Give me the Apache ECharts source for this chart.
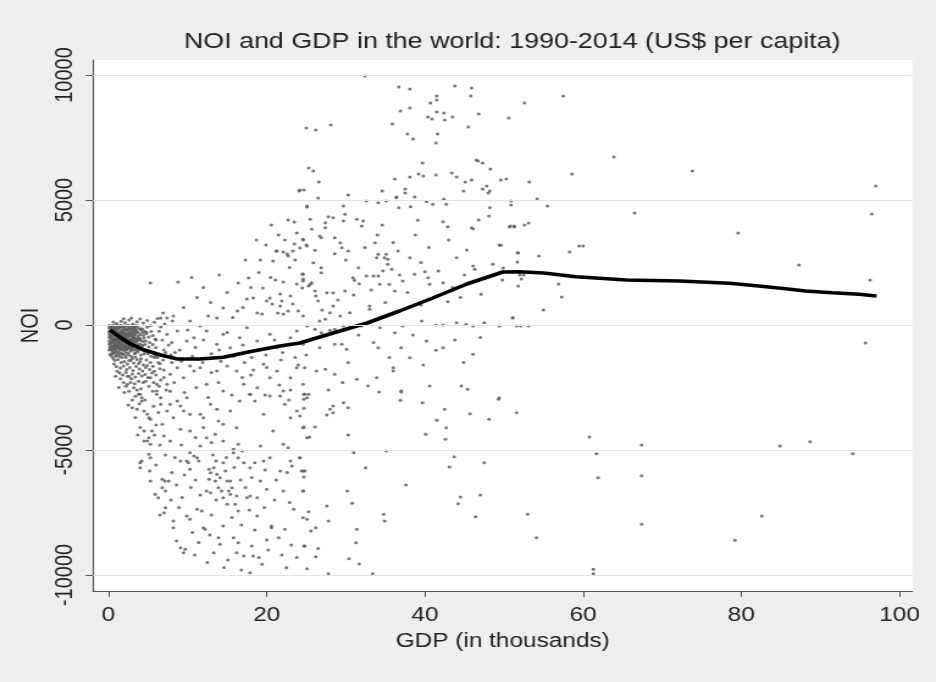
<!DOCTYPE html>
<html>
<head>
<meta charset="utf-8">
<script src="https://cdn.jsdelivr.net/npm/echarts@6/dist/echarts.min.js"></script>
<style>
  html, body { margin: 0; padding: 0; background: #eeeeee; overflow: hidden; }
  /* The chart is laid out on a 767px-wide canvas and stretched horizontally to 936px. */
  #chart { width: 767px; height: 682px; transform: scaleX(1.2203); transform-origin: 0 0; }
</style>
</head>
<body>
<div id="chart"></div>
<script>
// Tick positions
const xTicks = [0, 20, 40, 60, 80, 100];
const yTicks = [-10000, -5000, 0, 5000, 10000];

// Country-year observations: [GDP per capita (thousand US$), NOI per capita (US$)]
const clusterNearZero = [
  [0.2,-50],[0.3,-180],[0.4,-320],[0.2,-450],[0.5,-600],[0.3,-720],[0.6,-850],[0.4,-960],[0.7,-60],[0.8,-240],
  [0.9,-410],[0.7,-530],[1.0,-680],[0.8,-790],[1.1,-920],[0.9,-1050],[1.2,-30],[1.3,-150],[1.4,-300],[1.2,-470],
  [1.5,-560],[1.3,-710],[1.6,-830],[1.4,-990],[1.7,-90],[1.8,-260],[1.9,-380],[1.7,-500],[2.0,-640],[1.8,-770],
  [2.1,-880],[1.9,-1020],[2.2,-40],[2.3,-200],[2.4,-340],[2.2,-430],[2.5,-590],[2.3,-740],[2.6,-860],[2.4,-940],
  [2.7,-120],[2.8,-280],[2.9,-450],[2.7,-610],[3.0,-700],[2.8,-830],[3.1,-1000],[3.2,-60],[3.3,-230],[3.4,-390],
  [3.2,-520],[3.5,-660],[3.3,-800],[3.6,-930],[0.1,-120],[0.1,-380],[0.1,-640],[0.15,-880],[0.25,-260],[0.35,-540],
  [0.45,-100],[0.55,-400],[0.65,-700],[0.75,-960],[0.85,-180],[0.95,-560],[1.05,-320],[1.15,-840],[1.25,-620],[1.35,-80],
  [1.45,-440],[1.55,-900],[1.65,-210],[1.75,-660],[1.85,-480],[1.95,-140],[2.05,-820],[2.15,-360],[2.25,-560],[2.35,-980],
  [2.45,-110],[2.55,-730],[2.65,-420],[2.75,-910],[2.85,-160],[2.95,-560],[3.05,-330],[3.15,-870],[3.25,-700],[3.35,-120],
  [3.45,-560],[3.55,-280],[3.65,-760],[3.75,-450],[3.85,-140],[3.95,-980],[4.1,-620],[4.3,-300],[4.2,-860],[4.5,-520],
  [0.3,-80],[0.6,-270],[0.9,-150],[1.1,-500],[1.4,-700],[1.7,-380],[2.0,-240],[2.3,-620],[2.6,-330],[2.9,-780],
  [3.2,-430],[3.5,-190],[0.4,-580],[0.7,-820],[1.0,-960],[1.3,-1080],[1.6,-620],[1.9,-860],[2.2,-1100],[2.5,-900],
  [2.8,-1040],[3.1,-640],[3.4,-980],[0.2,-980],[0.5,-1080],[0.6,-20],[1.0,-20],[1.5,-10],[2.0,-30],[2.5,-10],
  [3.0,-20],[3.5,-30],[0.35,-720],[0.75,-430],[1.15,-250],[1.55,-350],[1.95,-520],[2.35,-470],[2.75,-580],[3.15,-230],
  [0.55,-1000],[0.95,-870],[1.35,-920],[1.75,-1150],[2.15,-990],[2.55,-1200],[2.95,-920],[3.35,-1120],[3.8,-820],[4.0,-380],
  [4.3,-1000],[4.6,-780],[0.15,-300],[0.25,-760],[0.45,-880],[0.85,-640],[1.25,-780],[1.65,-450],[2.05,-680],[2.45,-800],
  [2.85,-650],[3.25,-540],[3.65,-1020],[4.05,-200],[4.4,-660],[4.75,-350],[5.1,-880],
  [0.5,-1150],[0.9,-1240],[1.3,-1180],[1.7,-1300],[2.1,-1220],[2.5,-1120],[2.9,-1260],[3.3,-1150],[3.7,-1080],[4.1,-1200],
  [4.6,-1050],[5.0,-1150],[0.8,-1420],[1.2,-1380],[1.6,-1500],[2.0,-1460],[2.4,-1560],[2.8,-1420],[3.2,-1520],[3.6,-1380],
  [4.0,-1460],[4.4,-1600],[4.8,-1400],[5.3,-1500],[1.0,-1660],[1.5,-1720],[1.9,-1640],[2.3,-1780],[2.7,-1700],[3.1,-1820],
  [3.5,-1660],[3.9,-1760],[4.3,-1840],[4.7,-1700],[5.2,-1780],[5.6,-1650],[1.4,-1920],[1.8,-2000],[2.2,-1900],[2.6,-2060],
  [3.0,-1960],[3.4,-2080],[3.8,-1940],[4.2,-2040],[4.6,-1980],[5.0,-2100],[5.5,-1920],[6.0,-2000],
  [0.6,120],[1.0,60],[1.6,150],[2.1,90],[2.6,200],[3.1,40],[3.6,130],[4.0,240],[4.4,80],[4.9,180],
  [5.3,-30],[5.8,110],[6.2,260],[6.6,-80],[7.1,40],[1.9,250],[2.9,280],
  [4.8,-300],[5.2,-700],[5.6,-420],[6.0,-900],[6.4,-250],[5.9,-1250],[6.8,-600],[7.2,-1100],[6.3,-1500],[7.6,-800],
  [8.0,-1500],[7.0,-1800],[8.4,-1100],[5.7,-2300],[6.6,-2200],[7.3,-2600],[4.4,-2300],[3.6,-2600],[2.8,-2300],[2.2,-2450],
  [3.7,-300],[3.9,-560],[4.2,-150],[4.4,-420],[4.7,-640],[4.9,-90],[5.1,-480],[5.4,-260],[5.6,-780],[5.9,-560],
  [4.1,-1350],[4.5,-1150],[4.9,-1620],[5.4,-1250],[5.8,-1850],[6.2,-1300],[6.5,-1750],[6.9,-1400],[0.4,-1250],[0.7,-1560],
  [1.1,-1850],[1.5,-2150],[1.9,-2300],[2.4,-2050],[2.9,-2150],[3.3,-2350],[3.8,-2250],[4.1,-2550],[4.7,-2250],[5.1,-2450],
  [0.9,-2050],[1.3,-2500],[2.0,-2700],[2.6,-2650],[3.4,-2850],[5.6,-2650],[6.4,-2450],[7.0,-2100],[7.8,-2650],[8.3,-2300],
  [0.3,-400],[0.5,-230],[0.8,-680],[1.2,-130],[1.6,-980],[2.0,-420],[2.4,-600],[2.8,-80],[3.2,-860],[3.6,-530],
  [0.2,-1180],[0.6,-1340],[1.0,-1120],[1.4,-1260],[1.8,-1180],[2.2,-1300],[2.6,-1420],[3.0,-1340],[3.4,-1280],[3.8,-1540],
  [0.1,-20],[0.1,-260],[0.1,-500],[0.1,-760],[0.1,-1000],[0.4,-40],[0.4,-200],[0.4,-460],[0.4,-700],[0.4,-860],
  [0.7,-160],[0.7,-340],[0.7,-620],[0.7,-920],[0.7,-1120],[1.0,-140],[1.0,-400],[1.0,-580],[1.0,-780],[1.0,-1240],
  [1.3,-60],[1.3,-380],[1.3,-560],[1.3,-840],[1.6,-40],[1.6,-260],[1.6,-520],[1.6,-740],[1.6,-1120],[1.9,-60],
  [1.9,-300],[1.9,-620],[1.9,-940],[2.2,-160],[2.2,-340],[2.2,-700],[2.2,-860],[2.5,-220],[2.5,-460],[2.5,-700],
  [2.8,-180],[2.8,-380],[2.8,-720],[2.8,-940],[3.1,-140],[3.1,-360],[3.1,-540],[3.1,-780],[3.4,-80],[3.4,-300],
  [3.4,-620],[3.4,-860],[3.7,-40],[3.7,-620],[3.7,-880],[4.0,-540],[4.0,-760],[4.3,-180],[4.3,-820],[4.6,-260]
];

const pointsAboveZero = [
  [32.4,9960],[36.7,9520],[38.1,9440],[43.8,9560],[45.9,9480],[45.8,9160],[40.7,8880],[41.5,9160],[41.5,9000],[36.9,8560],
  [38.1,8680],[41.5,8520],[42.4,8480],[40.4,8320],[40.9,8240],[42.5,8200],[43.5,8320],[46.8,8440],[50.6,8280],[35.9,8040],
  [45.5,7920],[26.2,7800],[28.1,8000],[37.8,7640],[38.5,7440],[41.6,7640],[41.4,7280],[39.7,6480],[46.5,6600],[46.7,6560],
  [47.3,6480],[48.3,6240],[25.9,6160],[26.6,5720],[36.2,5840],[38.1,5920],[39.2,6040],[39.8,5960],[41.4,6000],[43.4,6080],
  [44.0,5920],[45.1,5720],[45.9,5800],[49.6,5800],[50.3,5840],[48.2,5360],[47.8,5560],[47.3,5440],[44.9,5360],[48.0,5280],
  [37.5,5440],[37.5,5280],[34.6,5360],[24.7,5400],[24.2,5400],[36.4,5120],[38.7,5120],[30.3,5200],[26.5,5080],
  [57.5,9160],[52.6,8880],[63.9,6720],[73.8,6160],[97.0,5560],[53.2,5720],[58.6,6040],[50.9,4960],[50.9,4800],[54.2,5040],
  [55.5,4760],[66.5,4480],[96.5,4440],[50.7,3920],[51.3,3920],[52.6,4000],[53.1,4080],[79.6,3680],[49.4,3200],[51.8,2880],
  [54.4,2760],[58.3,2920],[59.5,3160],[60.0,3160],
  [87.3,2400],[96.3,1800],[51.7,2520],[49.9,2280],[52.0,2000],[52.5,2000],[52.2,1840],[49.8,1800],[51.8,1560],[56.9,1640],
  [57.3,1120],[55.0,600],[51.1,280],
  [25.1,4760],[29.7,4760],[29.9,4430],[27.8,4330],[28.4,4290],[25.5,4230],[27.4,4090],[27.4,3890],[29.7,4160],[31.4,4230],
  [32.2,4160],[32.0,3960],[25.7,3830],[26.7,3560],[26.9,3490],[28.6,3490],[29.3,3290],[29.5,3090],[30.3,2960],[24.6,3430],
  [25.1,3160],[26.1,2990],[28.6,2850],[33.7,3290],[33.9,2690],[35.1,2830],[35.3,2630],[36.6,2960],[38.1,2690],[34.6,4000],
  [32.6,4960],[34.1,4890],[35.1,4960],[36.4,5090],[36.7,4690],[38.2,4730],[39.1,4190],[40.2,4930],[41.0,4830],[42.4,5030],
  [42.7,4830],[42.3,4130],[42.9,3930],[44.0,2690],[45.9,3890],[46.1,3850],[46.8,4200],[48.1,4360],[48.2,4690],[49.6,3190],
  [50.8,3960],[51.3,3960],[51.7,2890],
  [25.0,7880],[25.3,6280],[24.1,5360],[25.1,4720],[23.5,4120],[23.8,3680],[22.3,3400],[23.5,3240],[24.2,3080],[24.6,3400],
  [25.0,3200],[21.3,2960],[22.1,2920],[22.7,2760],[23.3,2960],[19.2,2600],
  [5.3,1680],[8.8,1720],[16.4,1680],[17.7,1880],[20.8,2560],[21.2,2960],[22.6,2840],[19.5,1480],[21.1,1800],[22.1,1720],
  [24.5,2040],[24.6,1840],[23.8,1640],[24.5,1480],[17.5,1040],[18.3,1080],[20.0,960],[20.7,840],[20.4,1080],[21.7,1240],
  [21.9,960],[21.7,760],[23.0,1160],[23.3,840],[18.8,480],[19.4,440],[21.4,480],[22.1,440],[22.7,560],[24.0,560],
  [24.6,360],[14.5,680],[12.6,360],[13.7,280],[16.3,560],[10.3,160],[6.9,480],[6.6,280],[7.4,280],[8.1,160],[8.2,360],
  [25.9,2490],[26.9,2290],[26.9,2090],[24.6,2030],[24.6,1760],[25.7,1690],[25.5,1630],[25.3,1560],[26.1,1360],[26.2,1160],
  [27.6,1290],[28.4,1290],[29.9,1360],[30.9,1890],[31.1,1790],[31.7,1650],[31.6,2290],[32.6,1960],[33.5,1960],[34.1,1960],
  [34.7,2160],[35.3,2430],[35.8,2230],[36.8,2000],[34.9,2690],[34.1,2830],[34.3,1630],[35.5,1630],[36.2,1360],[37.2,1760],
  [38.7,2030],[40.0,2130],[40.4,1890],[40.6,1630],[41.7,2160],[42.3,1690],[46.1,2360],[46.3,2230],[48.6,2430],[47.1,1230],
  [42.9,930],[33.0,760],[33.0,630],[30.5,490],[29.3,360],[28.0,490],[28.4,760],[26.5,960],[26.7,160],[27.4,230],
  [39.6,160],[44.0,90],[45.2,30],[47.5,90],[51.1,290],
  [9.5,700],[11.2,1100],[12.9,900],[15.0,1300],[15.7,300],[17.0,700],[18.0,1500],[19.0,2100],[20.5,1900],[22.9,2300],
  [23.6,2600],[19.9,3200],[21.5,3600],[22.7,4200],[20.6,4000],[18.7,3400],[17.3,2600],[14.0,2000],[12.0,1500],[10.5,1900],
  [27.0,600],[29.0,1000],[31.0,1200],[33.2,1400],[35.0,900],[37.8,1300],[39.5,800],[43.5,1500],[45.0,2000],[47.8,1900],
  [44.5,1100],[30.0,2600],[32.4,3100],[34.0,3600],[36.0,3300],[38.8,3600],[40.5,3100],[43.0,3400],[45.3,3000],[39.5,2500]
];

const pointsAtOrBelowZero = [
  [95.7,-720],[51.6,-40],[52.1,-40],[53.1,-40],[11.6,-40],
  [25.1,-40],[26.1,-170],[26.9,-310],[28.0,-210],[28.6,-170],[29.7,-40],[32.0,-40],[34.3,-110],[36.2,-310],[37.2,-40],
  [41.4,0],[42.3,0],[46.1,-40],[49.4,-40],[40.2,-640],[41.4,-1010],[42.3,-910],[34.1,-910],[37.0,-910],[38.1,-1310],
  [30.1,-970],[29.5,-770],[28.6,-770],[26.7,-910],[24.8,-1710],[26.3,-1840],[27.4,-1770],[28.6,-1970],[31.4,-2170],[32.8,-2440],
  [33.9,-2110],[36.0,-1710],[36.0,-1840],[37.0,-2640],[40.6,-2440],[44.6,-2440],[45.4,-2570],[46.1,-1170],[49.4,-2910],[24.8,-2770],
  [7.4,-370],[8.7,-240],[9.9,-640],[10.8,-510],[12.4,-240],[13.7,-770],[14.5,-370],[15.4,-910],[16.6,-510],[17.5,-110],
  [18.8,-640],[20.4,-370],[21.3,-910],[23.0,-510],[23.8,-240],[24.6,-770],
  [2.4,-2370],[3.2,-2510],[4.0,-2770],[4.2,-2910],[5.3,-2110],[6.1,-2370],[6.1,-2640],[6.6,-2910],[7.4,-2370],[7.8,-1970],
  [8.7,-1710],[9.5,-2110],[10.3,-1640],[10.8,-1840],[11.6,-1710],[12.4,-2370],[13.7,-1840],[14.5,-2640],[15.0,-1640],[16.2,-1840],
  [17.1,-2370],[17.9,-2770],[18.8,-2510],[19.6,-1570],[20.4,-2110],[21.3,-1840],[22.1,-2640],[23.0,-2110],[23.8,-1710],[24.6,-2370],
  [25.1,-2910],
  [5.8,-1300],[6.5,-1550],[7.9,-1200],[9.2,-1450],[10.6,-1250],[11.9,-1500],[13.0,-1150],[14.2,-1450],[15.8,-1250],[17.2,-1500],
  [18.1,-1300],[19.9,-1200],[21.8,-1400],[23.6,-1300],
  [6.0,-600],[7.0,-1000],[8.0,-700],[9.0,-1000],[10.0,-200],[11.0,-900],[12.0,-600],[13.0,-1900],[14.0,-1000],[15.0,-300],
  [16.0,-1200],[17.0,-800],[18.0,-2000],[19.0,-1000],[20.0,-1700],[21.0,-600],[22.0,-1100],[23.0,-2600],[24.0,-1600],[25.0,-1200],
  [9.6,-2700],[11.1,-2500],[12.6,-2900],[13.9,-2300],[15.6,-2800],[16.9,-2100],[18.3,-1800],[19.8,-2800],[21.6,-2400],[22.8,-3000],
  [3.0,-3310],[3.6,-3370],[4.2,-3040],[4.5,-3440],[4.9,-3570],[5.1,-3710],[5.3,-3770],[3.8,-2770],
  [3.0,-3000],[2.5,-3200],[3.9,-3150],[4.6,-3000],[5.7,-3250],[6.3,-3500],[6.0,-4000],[3.4,-3700],[4.0,-4100],[5.8,-4400],
  [6.5,-4800],[3.7,-4400],[7.2,-5200],[6.0,-5600],[8.0,-5900],[8.6,-6400],[9.3,-6900],[8.9,-7300],[7.9,-7000],[6.5,-7600],
  [4.5,-4240],[4.9,-4640],[5.3,-4770],[5.1,-5170],[5.3,-5310],[4.2,-5440],[4.0,-5710],[5.2,-5840],[5.3,-6240],[5.9,-6770],
  [6.3,-6910],[6.8,-6170],[7.1,-6240],[7.6,-6240],[6.8,-6510],[7.2,-6640],[7.2,-7310],[7.0,-7510],[8.2,-7840],[8.2,-8110],
  [8.6,-8640],[9.1,-8910],[9.7,-8970],[9.5,-9110],[9.9,-7640],[10.3,-7770],[11.2,-7370],[11.8,-7440],[12.0,-8110],[12.2,-8170],
  [13.3,-9110],[13.9,-8510],[14.1,-8770],[14.5,-8040],[15.8,-8510],[16.2,-9110],[16.4,-8710],[17.1,-9240],[18.1,-8840],[18.3,-9240],
  [19.4,-9570],[17.9,-9910],[22.5,-9710],[24.8,-8840],[20.6,-8110],[22.3,-8170],[23.4,-7370],[24.6,-7710],[21.5,-8510],
  [10.6,-8300],[11.4,-8700],[12.8,-8400],[10.9,-9200],[12.5,-9500],[15.1,-9400],[14.6,-9700],[16.8,-9800],[19.0,-9300],[20.2,-9000],
  [21.9,-9200],[23.1,-8800],[23.8,-9300],[18.5,-8200],[20.0,-8600],
  [10.3,-5110],[10.8,-5240],[11.2,-5310],[11.4,-5440],[10.1,-5510],[9.9,-5440],[9.1,-5440],[10.3,-5770],
  [11.0,-6200],[11.6,-6800],[10.4,-6500],[9.6,-6000],[8.4,-5300],[9.2,-4800],[11.0,-4500],[12.0,-4100],[13.0,-4700],[13.2,-5200],
  [14.9,-5300],[15.9,-5700],[16.7,-6200],[17.3,-6500],[18.1,-6100],[19.8,-5800],[21.2,-6200],[22.6,-5900],[21.0,-7000],[22.9,-7100],
  [19.7,-7300],[17.8,-7400],[16.8,-8000],[15.6,-7700],[13.6,-7000],[13.0,-7600],
  [12.7,-5770],[12.9,-5910],[13.3,-5710],[13.6,-5440],[13.7,-5970],[14.1,-6110],[13.5,-6240],[12.7,-6170],[12.4,-6640],[12.9,-6710],
  [13.9,-6510],[14.3,-6640],[14.5,-6910],[15.0,-7170],[15.2,-6640],[15.4,-6770],[15.6,-6510],[16.0,-7170],[16.4,-7440],[15.0,-6240],
  [14.8,-5840],[14.5,-5510],[15.4,-6240],[16.2,-6840],[17.5,-6910],[17.9,-6840],[18.8,-6910],
  [16.9,-5040],[15.8,-5110],[16.4,-5310],[17.1,-5510],[17.9,-5710],[18.5,-5510],[19.6,-5440],[20.4,-5310],[21.7,-5840],[23.0,-5440],
  [23.2,-5640],[24.2,-5310],[24.4,-5840],[24.8,-5840],[24.6,-6640],[22.1,-6640],[20.0,-6570],[19.2,-6240],[18.8,-7640],[20.6,-8040],
  [6.1,-2770],[6.6,-3170],[7.8,-3170],[8.7,-3040],[9.1,-3240],[9.5,-3440],[9.9,-2910],[10.3,-3570],[11.6,-3570],[12.0,-3710],
  [12.9,-3170],[13.7,-3370],[13.9,-3840],[14.5,-3970],[15.4,-3440],[16.2,-4110],[16.6,-3040],[17.9,-2770],[18.5,-3040],[19.6,-3570],
  [20.4,-2840],[21.7,-2840],[22.3,-3170],[23.0,-3710],[23.8,-3440],[24.6,-4110],[25.1,-4510],[20.8,-4240],[22.1,-4770],[22.7,-4910],
  [19.2,-4840],[16.4,-4770],[15.8,-4970],[14.5,-4640],[13.5,-4370],[12.4,-4510],[11.6,-4840],[10.3,-4240],[9.1,-4170],[7.8,-4640],
  [7.0,-4440],[5.5,-4240],[5.1,-4510],[4.5,-4640],[8.2,-3710],[7.4,-3440],[6.8,-3970],[4.0,-5510],
  [24.7,-2770],[25.3,-2770],[24.7,-2970],[24.7,-3330],[24.2,-3640],[27.6,-3600],[28.0,-3370],[28.4,-3240],[28.4,-3510],[29.7,-3110],
  [30.3,-3310],[24.7,-4080],[26.1,-4080],[25.4,-4480],[30.3,-4400],[34.2,-2680],[37.0,-2680],[36.9,-3010],[39.7,-3110],[41.5,-3810],
  [42.5,-3370],[42.7,-4110],[42.6,-4570],[40.1,-4370],[45.7,-3550],[48.1,-3770],[49.3,-2970],[51.6,-3510],[24.2,-5310],[24.6,-5840],
  [24.7,-6080],[31.0,-5110],[35.1,-5040],[32.5,-5710],[24.6,-6640],[30.2,-6640],[30.8,-7130],[37.6,-6400],[43.7,-5270],[43.1,-5680],
  [47.5,-5510],[44.5,-6880],[44.2,-7150],[47.0,-6800],[46.4,-7670],[27.6,-7240],[25.3,-7470],[25.1,-7770],[27.8,-7840],[25.6,-8240],
  [26.2,-8110],[34.8,-7570],[34.9,-7840],[31.4,-8170],[31.3,-8710],[24.7,-8840],[26.5,-8940],[26.2,-9270],[30.4,-9350],[31.7,-9560],
  [25.1,-9750],[27.8,-9950],[33.4,-9950],
  [31.6,-400],[33.5,-700],[35.5,-1300],[38.5,-400],[39.8,-1600],[43.8,-600],[47.0,-500],[44.9,-1500],[30.3,-1500],[27.8,-2600],
  [29.6,-2300],
  [60.8,-4480],[61.7,-5150],[61.9,-6110],[67.4,-4800],[67.4,-6030],[67.4,-7970],[53.0,-7570],[54.1,-8510],[61.3,-9770],[61.3,-9950],
  [79.2,-8610],[82.6,-7640],[84.9,-4840],[88.7,-4670],[94.1,-5150]
];

// Lowess fit of NOI on GDP
const lowessGdp = [0.2, 1.5, 2.8, 4.5, 6.6, 8.7, 11.6, 14.5, 18.3, 21.7, 24.2, 28.4, 32.7, 36.8, 41.0, 45.3, 49.1, 49.8, 52.0, 55.0, 59.1, 62.1, 65.5, 72.2, 78.5, 82.2, 85.6, 88.1, 91.5, 94.9, 97.1];
const lowessNoi = [-200, -500, -760, -1000, -1200, -1360, -1360, -1290, -1040, -840, -720, -320, 80, 560, 1080, 1640, 2040, 2120, 2130, 2080, 1930, 1870, 1800, 1760, 1670, 1560, 1450, 1360, 1290, 1230, 1160];

const FONT = '"Liberation Sans", Arial, sans-serif';
const TEXT = '#222222';
const AXIS = '#555555';

const chart = echarts.init(document.getElementById('chart'), null, { renderer: 'canvas' });

chart.setOption({
  animation: false,
  backgroundColor: '#eeeeee',
  title: {
    text: 'NOI and GDP in the world: 1990-2014 (US$ per capita)',
    left: 414.7,
    top: 26,
    textAlign: 'center',
    textStyle: { fontFamily: FONT, fontSize: 22, fontWeight: 'normal', color: TEXT }
  },
  grid: {
    left: 76.2, right: 19.3, top: 60, bottom: 91,
    show: true, backgroundColor: '#ffffff', borderWidth: 0
  },
  xAxis: {
    type: 'value',
    min: -1.96, max: 101.64,
    name: 'GDP (in thousands)',
    nameLocation: 'middle',
    nameGap: 40,
    nameTextStyle: { fontFamily: FONT, fontSize: 20, color: TEXT },
    axisLine: { show: true, onZero: false, lineStyle: { color: AXIS, width: 1.2 } },
    axisTick: { show: true, length: 6, customValues: xTicks, lineStyle: { color: AXIS, width: 1 } },
    axisLabel: { customValues: xTicks, margin: 14, fontFamily: FONT, fontSize: 20, color: TEXT },
    splitLine: { show: false }
  },
  yAxis: {
    type: 'value',
    min: -10640, max: 10600,
    name: 'NOI',
    nameLocation: 'middle',
    nameGap: 29,
    nameRotate: 90,
    nameTextStyle: { fontFamily: FONT, fontSize: 20, color: TEXT },
    axisLine: { show: true, onZero: false, lineStyle: { color: AXIS, width: 1.2 } },
    axisTick: { show: true, length: 6, customValues: yTicks, lineStyle: { color: AXIS, width: 1 } },
    axisLabel: {
      customValues: yTicks, rotate: 90, margin: 13,
      fontFamily: FONT, fontSize: 20, color: TEXT,
      formatter: v => String(v)
    },
    splitLine: { show: false }
  },
  series: [
    {
      // horizontal grid lines at the y ticks
      type: 'line',
      data: [],
      silent: true,
      z: 1,
      markLine: {
        silent: true,
        symbol: ['none', 'none'],
        label: { show: false },
        lineStyle: { color: '#e3e3e3', width: 1, type: 'solid' },
        data: yTicks.map(v => ({ yAxis: v }))
      }
    },
    {
      name: 'NOI',
      type: 'scatter',
      z: 2,
      symbol: 'circle',
      symbolSize: 3,
      itemStyle: { color: '#5e5e5e', opacity: 0.85 },
      data: clusterNearZero.concat(pointsAboveZero, pointsAtOrBelowZero)
    },
    {
      name: 'lowess',
      type: 'line',
      z: 3,
      symbol: 'none',
      lineStyle: { color: '#000000', width: 3.6 },
      data: lowessGdp.map((g, i) => [g, lowessNoi[i]])
    }
  ]
});
</script>
</body>
</html>
